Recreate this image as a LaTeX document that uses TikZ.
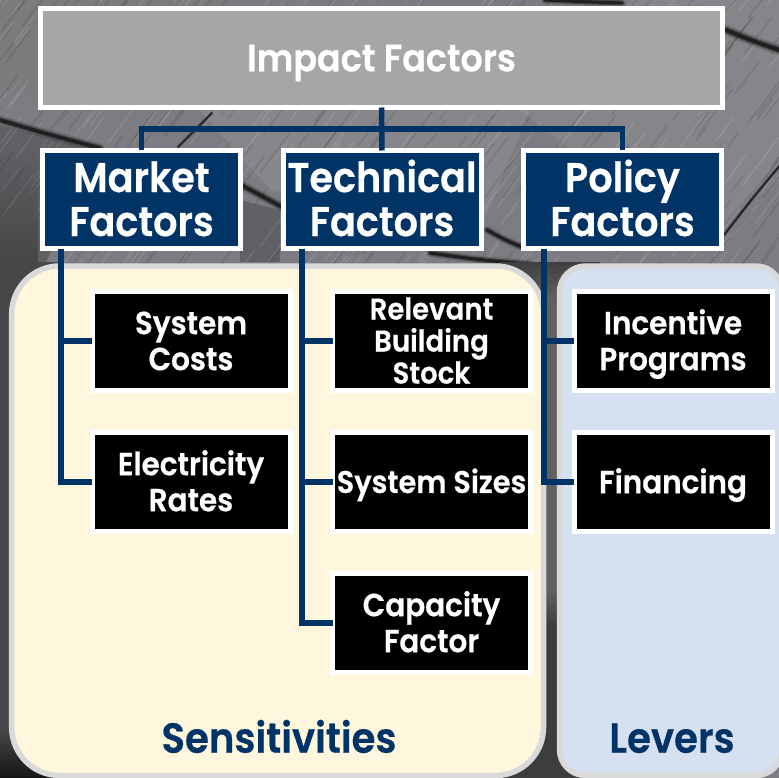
\documentclass[tikz,border=0pt]{standalone}
\usepackage{fontspec}
\setmainfont{Poppins}[BoldFont={Poppins SemiBold},BoldFeatures={FakeBold=0.5},FakeStretch=0.92]
\usetikzlibrary{calc,fadings}
\definecolor{navy}{HTML}{003366}
\definecolor{yellowpanel}{HTML}{FFF6DE}
\definecolor{bluepanel}{HTML}{D5E0F0}
\definecolor{rim}{HTML}{D9D9D9}
\definecolor{topgray}{HTML}{A6A6A6}
\definecolor{roof}{HTML}{7C7C82}
\newcommand\cl[1]{\raisebox{0pt}[\fontcharht\font`H][0pt]{#1}}
\newcommand\softgap[4]{%
  \draw[line width=#4*2.6pt,black,opacity=.15,line cap=round] (#1) .. controls (#2) .. (#3);
  \draw[line width=#4*1.7pt,black,opacity=.3,line cap=round] (#1) .. controls (#2) .. (#3);
  \draw[line width=#4*1pt,black!90,opacity=.85,line cap=round] (#1) .. controls (#2) .. (#3);}
\tikzset{
  x=1pt,y=-1pt,
  basebox/.style={draw=white,line width=5pt,inner sep=0pt,outer sep=0pt,align=center,text=white},
  rootbox/.style={basebox,fill=topgray,minimum width=682pt,minimum height=99pt,font=\bfseries\fontsize{38}{42}\selectfont},
  groupbox/.style={basebox,fill=navy,minimum width=198pt,minimum height=98pt,font=\bfseries\fontsize{41.5}{44}\selectfont},
  leafbox/.style={basebox,fill=black,minimum width=198pt,minimum height=99pt,font=\bfseries\fontsize{32}{36}\selectfont},
  sizebox/.style={leafbox,font=\bfseries\fontsize{31.3}{36}\selectfont},
  stockbox/.style={leafbox,font=\bfseries\fontsize{30}{32}\selectfont},
  conn/.style={draw=navy,line width=5.5pt},
  paneltitle/.style={text=navy,font=\bfseries\fontsize{42}{46}\selectfont,inner sep=0pt},
  panel/.style={draw=rim,line width=5.5pt},
}
\begin{document}
\begin{tikzpicture}
\useasboundingbox (0,0) rectangle (779,778);
\begin{scope}
\clip (0,0) rectangle (779,778);
% roof background
\fill[roof] (0,0) rectangle (779,778);
\fill[black!52,opacity=.45] (0,0) -- (230,0) -- (185,115) -- (0,90) -- cycle;
\fill[white,opacity=.08] (200,110) -- (530,110) -- (480,230) -- (270,190) -- cycle;
\fill[white,opacity=.07] (620,0) -- (779,0) -- (779,160) -- (700,250) -- (520,110) -- cycle;
\fill[black,opacity=.22] (0,125) -- (95,150) -- (45,265) -- (0,265) -- cycle;
\fill[black,opacity=.22] (240,200) -- (280,210) -- (280,262) -- (240,262) -- cycle;
\pgfmathsetseed{4242}
\foreach \i in {1,...,520}{
  \pgfmathsetmacro{\xa}{rnd*860-40}
  \pgfmathsetmacro{\ya}{rnd*300}
  \pgfmathsetmacro{\len}{12+rnd*40}
  \pgfmathsetmacro{\tone}{rnd>0.5?100:0}
  \draw[line width=1pt,white!\tone!black,opacity=.13] (\xa,\ya) -- ++(\len*.75,-\len);
}
\softgap{0,120}{50,135}{100,148}{3.5}
\softgap{243,186}{260,195}{282,207}{3.5}
\softgap{487,230}{505,240}{522,247}{3}
\softgap{726,30}{750,40}{785,52}{4}
\softgap{545,0}{590,2}{622,3}{3}
\softgap{430,253}{480,260}{530,264}{3}
\softgap{212,113}{195,130}{178,147}{1.4}
\softgap{782,163}{755,195}{724,235}{1.4}
% dark surroundings of the panels, shaded so that no hard edge shows
\fill[black!72,path fading=north] (0,150) rectangle (38,262);
\fill[black!72] (0,262) rectangle (60,395);
\fill[top color=black!72,middle color=black!95,bottom color=black!72] (0,395) rectangle (60,425);
\fill[black!72] (0,425) rectangle (60,730);
\fill[top color=black!72,bottom color=black!92] (0,730) rectangle (60,778);
\fill[top color=black!75,bottom color=black!62] (500,262) rectangle (600,300);
\fill[black!62] (500,300) rectangle (600,590);
\fill[top color=black!62,middle color=black!95,bottom color=black!75] (500,590) rectangle (600,622);
\fill[black!76] (500,622) rectangle (600,778);
% panels
\draw[panel,fill=yellowpanel] (11.7,266) [rounded corners=48pt] -- (11.7,775.5) -- (543.5,775.5) -- (543.5,266) -- cycle;
\draw[panel,fill=bluepanel,rounded corners=26pt] (559.5,266) rectangle (782,775.5);
\end{scope}
% boxes
\node[rootbox] (root) at (381.5,58) {\cl{Impact Factors}};
\node[groupbox] (market) at (141.5,199.5) {\cl{Market}\\\cl{Factors}};
\node[groupbox] (tech) at (382,199.5) {\cl{Technical}\\\cl{Factors}};
\node[groupbox] (policy) at (622.5,199.5) {\cl{Policy}\\\cl{Factors}};
\node[leafbox] (costs) at (191,341) {\cl{System}\\\cl{Costs}};
\node[leafbox] (rates) at (191,482) {\cl{Electricity}\\\cl{Rates}};
\node[stockbox] (stock) at (431.5,341) {\cl{Relevant}\\\cl{Building}\\\cl{Stock}};
\node[sizebox] (sizes) at (431.5,482) {\cl{System Sizes}};
\node[leafbox] (capacity) at (431.5,623) {\cl{Capacity}\\\cl{Factor}};
\node[leafbox] (incentive) at (673,341) {\cl{Incentive}\\\cl{Programs}};
\node[leafbox] (financing) at (673,482) {\cl{Financing}};
\node[paneltitle] (sens) at (279,738) {\cl{Sensitivities}};
\node[paneltitle] (levers) at (672,738) {\cl{Levers}};
% connectors
\coordinate (bus) at (0,129);
\draw[conn] (root.south) -- (tech.north);
\draw[conn] (market.north) |- (bus -| root.south) -| (policy.north);
\draw[conn] ([xshift=-80.5pt]market.south) |- (costs.west);
\draw[conn] ([xshift=-80.5pt]market.south) |- (rates.west);
\draw[conn] ([xshift=-80pt]tech.south) |- (stock.west);
\draw[conn] ([xshift=-80pt]tech.south) |- (sizes.west);
\draw[conn] ([xshift=-80pt]tech.south) |- (capacity.west);
\draw[conn] ([xshift=-78.5pt]policy.south) |- (incentive.west);
\draw[conn] ([xshift=-78.5pt]policy.south) |- (financing.west);
\end{tikzpicture}
\end{document}
